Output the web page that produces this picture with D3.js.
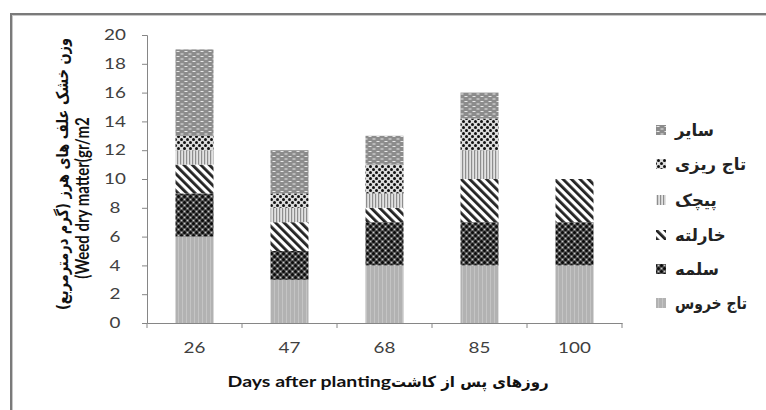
<!DOCTYPE html>
<html><head><meta charset="utf-8">
<script src="https://cdn.jsdelivr.net/npm/d3@7"></script>
<style>
html,body{margin:0;padding:0;background:#fff;}
svg{display:block;}
</style>
</head><body>
<svg id="chart" width="766" height="410"></svg>
<script>
// ---- data ----
const categories = ["26", "47", "68", "85", "100"];
const species = ["تاج خروس", "سلمه", "خارلته", "پیچک", "تاج ریزی", "سایر"];
const tajKhorus = [6, 3, 4, 4, 4];
const salmeh = [3, 2, 3, 3, 3];
const kharlateh = [2, 2, 1, 3, 3];
const pichak = [1, 1, 1, 2, 0];
const tajRizi = [1, 1, 2, 2.2, 0];
const sayer = [6, 3, 2, 1.8, 0];
const seriesValues = [tajKhorus, salmeh, kharlateh, pichak, tajRizi, sayer];
const yTicks = [0, 2, 4, 6, 8, 10, 12, 14, 16, 18, 20];
const xTitleEn = "Days after planting";
const xTitleFa = "روزهای پس از کاشت";
const yTitleFa = "وزن خشک علف های هرز (گرم درمترمربع)";
const yTitleEn = "(Weed dry matter(gr/m2";

const svg = d3.select("#chart");
const defs = svg.append("defs");

// ---- patterns ----
function pat(id, w, h, build, transform) {
  const p = defs.append("pattern").attr("id", id).attr("patternUnits", "userSpaceOnUse")
    .attr("width", w).attr("height", h);
  if (transform) p.attr("patternTransform", transform);
  build(p);
}
pat("p0", 4, 4, p => {
  p.append("rect").attr("width", 4).attr("height", 4).attr("fill", "#b2b2b2");
  p.append("rect").attr("x", 2).attr("width", 1).attr("height", 4).attr("fill", "#c4c4c4");
});
pat("p1", 6, 6, p => {
  p.append("rect").attr("width", 6).attr("height", 6).attr("fill", "#5a5a5a");
  p.append("circle").attr("cx", 1.5).attr("cy", 1.5).attr("r", 1.5).attr("fill", "#0a0a0a");
  p.append("circle").attr("cx", 4.5).attr("cy", 4.5).attr("r", 1.5).attr("fill", "#0a0a0a");
  p.append("circle").attr("cx", 4.5).attr("cy", 1.5).attr("r", 0.8).attr("fill", "#c8c8c8");
  p.append("circle").attr("cx", 1.5).attr("cy", 4.5).attr("r", 0.8).attr("fill", "#c8c8c8");
});
pat("p2", 6, 6, p => {
  p.append("rect").attr("width", 6).attr("height", 6).attr("fill", "#fff");
  p.append("rect").attr("width", 2.8).attr("height", 6).attr("fill", "#222");
}, "rotate(-45)");
pat("p3", 3, 3, p => {
  p.append("rect").attr("width", 3).attr("height", 3).attr("fill", "#e2e2e2");
  p.append("rect").attr("width", 1.2).attr("height", 3).attr("fill", "#8e8e8e");
});
pat("p4", 6, 6, p => {
  p.append("rect").attr("width", 6).attr("height", 6).attr("fill", "#ddd");
  p.append("circle").attr("cx", 1.5).attr("cy", 1.5).attr("r", 1.5).attr("fill", "#111");
  p.append("circle").attr("cx", 4.5).attr("cy", 4.5).attr("r", 1.5).attr("fill", "#111");
});
pat("p5", 8, 5, p => {
  p.append("rect").attr("width", 8).attr("height", 5).attr("fill", "#8c8c8c");
  p.append("rect").attr("x", 0.5).attr("y", 1).attr("width", 3).attr("height", 1).attr("fill", "#e8e8e8");
  p.append("rect").attr("x", 4.5).attr("y", 3.5).attr("width", 3).attr("height", 1).attr("fill", "#e8e8e8");
});
const patIds = ["p0", "p1", "p2", "p3", "p4", "p5"];

// ---- frame ----
svg.append("line").attr("x1", 10).attr("x2", 766).attr("y1", 14).attr("y2", 14)
  .attr("stroke", "#7a7a7a").attr("stroke-width", 2);
svg.append("line").attr("x1", 10).attr("x2", 766).attr("y1", 15.5).attr("y2", 15.5)
  .attr("stroke", "#c8c8c8").attr("stroke-width", 1);
svg.append("line").attr("x1", 11).attr("x2", 11).attr("y1", 13).attr("y2", 410)
  .attr("stroke", "#7a7a7a").attr("stroke-width", 2);
svg.append("line").attr("x1", 12.5).attr("x2", 12.5).attr("y1", 15).attr("y2", 410)
  .attr("stroke", "#c8c8c8").attr("stroke-width", 1);

// ---- scales ----
const x = d3.scaleBand().domain(categories).range([147, 622]).paddingInner(0.6).paddingOuter(0.3);
const y = d3.scaleLinear().domain([0, 20]).range([323, 35]);

// stacked data
const rows = categories.map((c, i) => {
  const o = { cat: c };
  species.forEach((s, j) => o[s] = seriesValues[j][i]);
  return o;
});
const stack = d3.stack().keys(species)(rows);

const g = svg.append("g");
stack.forEach((layer, j) => {
  g.selectAll(null).data(layer).enter().append("rect")
    .attr("x", d => x(d.data.cat))
    .attr("width", x.bandwidth())
    .attr("y", d => y(d[1]))
    .attr("height", d => Math.max(0, y(d[0]) - y(d[1])))
    .attr("fill", `url(#${patIds[j]})`);
});

// ---- axes ----
const axisColor = "#868686";
const SX = 1.3; // horizontal stretch of the reference text
const yAxis = svg.append("g").attr("transform", "translate(147,0)")
  .call(d3.axisLeft(y).tickValues(yTicks).tickSize(5).tickFormat(d3.format("d")));
yAxis.select(".domain").attr("stroke", axisColor);
yAxis.selectAll(".tick line").attr("stroke", axisColor);
yAxis.selectAll("text").attr("x", 0).attr("text-anchor", "middle")
  .attr("transform", `translate(-32,0) scale(${SX},1)`)
  .attr("font-family", "Lato, 'Open Sans', sans-serif")
  .attr("font-size", 14.5).attr("fill", "#404040");

const xAxis = svg.append("g").attr("transform", "translate(0,323)")
  .call(d3.axisBottom(x).tickSize(0).tickPadding(20));
xAxis.select(".domain").attr("stroke", axisColor);
xAxis.selectAll("text").attr("transform", `scale(${SX},1)`)
  .attr("font-family", "Lato, 'Open Sans', sans-serif")
  .attr("font-size", 14.5).attr("fill", "#404040");
// boundary ticks
const bounds = categories.map(c => x(c) - x.step() * x.paddingInner() / 2);
bounds.push(x(categories[categories.length - 1]) + x.bandwidth() + x.step() * x.paddingInner() / 2);
xAxis.selectAll(".bt").data(bounds).enter().append("line")
  .attr("x1", d => d).attr("x2", d => d).attr("y1", 0).attr("y2", 5).attr("stroke", axisColor);

// ---- titles ----
svg.append("text").attr("transform", `translate(391,387) scale(${SX},1)`).attr("text-anchor", "end")
  .attr("font-family", "Lato, sans-serif").attr("font-weight", "bold")
  .attr("font-size", 15).attr("fill", "#111").text(xTitleEn);
svg.append("text").attr("x", 391).attr("y", 387).attr("text-anchor", "start")
  .attr("font-family", "'DejaVu Sans', sans-serif").attr("font-weight", "bold")
  .attr("font-size", 15).attr("fill", "#111").text(xTitleFa);

svg.append("text").attr("transform", "translate(68,174) rotate(-90) scale(1,1.25)").attr("text-anchor", "middle")
  .style("direction", "rtl")
  .attr("font-family", "'DejaVu Sans', sans-serif").attr("font-weight", "bold")
  .attr("font-size", 13).attr("fill", "#111").text(yTitleFa);
svg.append("text").attr("transform", "translate(89,198) rotate(-90) scale(1,1.25)").attr("text-anchor", "middle")
  .attr("font-family", "Lato, sans-serif").attr("font-weight", "bold")
  .attr("font-size", 15).attr("fill", "#111").text(yTitleEn);

// ---- legend ----
const legendY = [303, 269, 235, 200, 164, 130];
species.forEach((s, j) => {
  const ly = legendY[j];
  svg.append("rect").attr("x", 656).attr("y", ly - 5).attr("width", 10).attr("height", 10)
    .attr("fill", `url(#${patIds[j]})`);
  const t = svg.append("text").attr("x", 675).attr("y", ly + 6)
    .attr("font-family", "'DejaVu Sans', sans-serif").attr("font-weight", "bold")
    .attr("font-size", 16.5).attr("fill", "#222").text(s);
  const w = t.node().getComputedTextLength();
  if (w > 72) t.attr("textLength", 72).attr("lengthAdjust", "spacingAndGlyphs");
});
</script>
</body></html>
